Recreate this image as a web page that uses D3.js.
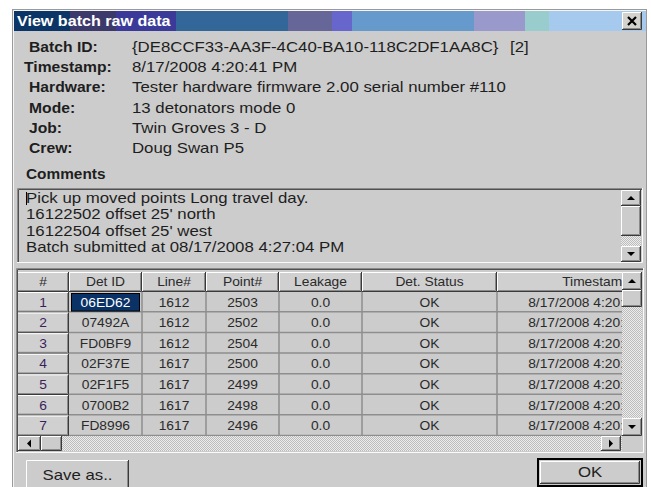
<!DOCTYPE html>
<html>
<head>
<meta charset="utf-8">
<script src="https://cdn.jsdelivr.net/npm/d3@7"></script>
<style>
body { margin: 0; background: #fff; }
</style>
</head>
<body>
<script>
// ---- data ----
var titleText = "View batch raw data";
var fieldLabels = ["Batch ID:", "Timestamp:", "Hardware:", "Mode:", "Job:", "Crew:"];
var fieldValues = ["{DE8CCF33-AA3F-4C40-BA10-118C2DF1AA8C}", "8/17/2008 4:20:41 PM",
  "Tester hardware firmware 2.00 serial number #110", "13 detonators mode 0",
  "Twin Groves 3 - D", "Doug Swan P5"];
var batchIndex = "[2]";
var commentsTitle = "Comments";
var commentLines = ["Pick up moved points Long travel day.", "16122502 offset 25' north",
  "16122504 offset 25' west", "Batch submitted at 08/17/2008 4:27:04 PM"];

var columns = ["#", "Det ID", "Line#", "Point#", "Leakage", "Det. Status", "Timestamp"];
var rowNums = [1, 2, 3, 4, 5, 6, 7];
var detIds = ["06ED62", "07492A", "FD0BF9", "02F37E", "02F1F5", "0700B2", "FD8996"];
var lineNums = [1612, 1612, 1612, 1617, 1617, 1617, 1617];
var pointNums = [2503, 2502, 2504, 2500, 2499, 2498, 2496];
var leakage = ["0.0", "0.0", "0.0", "0.0", "0.0", "0.0", "0.0"];
var detStatus = ["OK", "OK", "OK", "OK", "OK", "OK", "OK"];
var detTimes = ["8/17/2008 4:20:41 PM", "8/17/2008 4:20:41 PM", "8/17/2008 4:20:41 PM",
  "8/17/2008 4:20:41 PM", "8/17/2008 4:20:41 PM", "8/17/2008 4:20:41 PM", "8/17/2008 4:20:41 PM"];
var saveLabel = "Save as..";
var okLabel = "OK";

// ---- layout ----
var W = 651, H = 487;
var SX = 1.2;   // screenshot text is stretched horizontally
var panel = "#cccccc";
var ink = "#1e1e1e";

var svg = d3.select("body").append("svg")
  .attr("width", W).attr("height", H)
  .style("font-family", "'Liberation Sans', Arial, sans-serif");

var defs = svg.append("defs");
var pat = defs.append("pattern").attr("id", "dots")
  .attr("width", 2).attr("height", 2).attr("patternUnits", "userSpaceOnUse");
pat.append("rect").attr("width", 2).attr("height", 2).attr("fill", "#ececec");
pat.append("rect").attr("width", 1).attr("height", 1).attr("fill", "#bcbcbc");
pat.append("rect").attr("x", 1).attr("y", 1).attr("width", 1).attr("height", 1).attr("fill", "#bcbcbc");

function put(g, x, y, s, size, opt) {
  opt = opt || {};
  return g.append("text")
    .attr("transform", "translate(" + x + "," + y + ") scale(" + (opt.sx || SX) + ",1)")
    .attr("dy", "0.36em")
    .attr("font-size", size)
    .attr("font-weight", opt.bold ? "bold" : "normal")
    .attr("text-anchor", opt.anchor || "start")
    .attr("fill", opt.fill || ink)
    .text(s);
}

function raised(g, x, y, w, h, fill) {
  g.append("rect").attr("x", x).attr("y", y).attr("width", w).attr("height", h).attr("fill", fill || panel);
  g.append("path").attr("d", "M" + (x + 0.5) + "," + (y + h - 1) + "V" + (y + 0.5) + "H" + (x + w - 1))
    .attr("stroke", "#fff").attr("fill", "none");
  g.append("path").attr("d", "M" + (x + 1) + "," + (y + h - 1.5) + "H" + (x + w - 1.5) + "V" + (y + 1))
    .attr("stroke", "#8a8a8a").attr("fill", "none");
  g.append("path").attr("d", "M" + x + "," + (y + h - 0.5) + "H" + (x + w - 0.5) + "V" + y)
    .attr("stroke", "#3a3a3a").attr("fill", "none");
}

function sunken(g, x, y, w, h) {
  g.append("path").attr("d", "M" + (x + 0.5) + "," + (y + h) + "V" + (y + 0.5) + "H" + (x + w))
    .attr("stroke", "#8a8a8a").attr("fill", "none");
  g.append("path").attr("d", "M" + (x + 1.5) + "," + (y + h - 1) + "V" + (y + 1.5) + "H" + (x + w - 1))
    .attr("stroke", "#505050").attr("fill", "none");
  g.append("path").attr("d", "M" + x + "," + (y + h - 0.5) + "H" + (x + w - 0.5) + "V" + y)
    .attr("stroke", "#fafafa").attr("fill", "none");
}

function arrow(g, cx, cy, dir) {
  var d = {
    up: [[-4, 2], [4, 2], [0, -2]], down: [[-4, -2], [4, -2], [0, 2]],
    left: [[2, -4], [2, 4], [-2, 0]], right: [[-2, -4], [-2, 4], [2, 0]]
  }[dir];
  g.append("path").attr("fill", "#000")
    .attr("d", "M" + d.map(function (p) { return (cx + p[0]) + "," + (cy + p[1]); }).join("L") + "Z");
}

function vscroll(g, x, y0, y1, thumbEnd, btn) {
  g.append("rect").attr("x", x).attr("y", y0).attr("width", 20).attr("height", y1 - y0).attr("fill", "url(#dots)");
  raised(g, x, y0, 20, btn);
  arrow(g, x + 10, y0 + btn / 2, "up");
  raised(g, x, y0 + btn, 20, thumbEnd - y0 - btn);
  raised(g, x, y1 - btn, 20, btn);
  arrow(g, x + 10, y1 - btn / 2, "down");
}

// ---- dialog frame ----
svg.append("rect").attr("x", 12.5).attr("y", 9.5).attr("width", 634).attr("height", 490)
  .attr("fill", panel).attr("stroke", "#9a9a9a");
svg.append("path").attr("d", "M13.5,499V10.5H646").attr("stroke", "#f4f4f4").attr("fill", "none");

// title bar bands
var bands = [
  [14, 70, "#0b3566"], [70, 116, "#3c3a6b"], [116, 176, "#3b3a99"], [176, 288, "#336699"],
  [288, 332, "#666699"], [332, 352, "#6666cc"], [352, 474, "#6699cc"], [474, 525, "#9999cc"],
  [525, 549, "#99cccc"], [549, 646, "#a6c9ee"]
];
var title = svg.append("g");
title.selectAll("rect").data(bands).join("rect")
  .attr("x", function (d) { return d[0]; }).attr("y", 11)
  .attr("width", function (d) { return d[1] - d[0]; }).attr("height", 20)
  .attr("fill", function (d) { return d[2]; });
put(title, 17, 21, titleText, 14, { bold: true, fill: "#fff", sx: 1.15 });
raised(title, 622, 12, 20, 18, "#d4d2cc");
title.append("path").attr("d", "M628,17L636,25M636,17L628,25")
  .attr("stroke", "#000").attr("stroke-width", 2.2);

// ---- header fields ----
var fieldY = d3.scalePoint().domain(fieldLabels).range([47, 148]);
var fields = svg.append("g");
fieldLabels.forEach(function (l, i) {
  put(fields, l === "Timestamp:" ? 24 : 29, fieldY(l), l, 14, { bold: true, sx: 1.12 });
  put(fields, 132, fieldY(l), fieldValues[i], 14);
});
put(fields, 510, fieldY("Batch ID:"), batchIndex, 14);

// ---- comments ----
put(svg, 26, 174, commentsTitle, 14, { bold: true, sx: 1.1 });
var cbox = svg.append("g");
sunken(cbox, 17, 188, 626, 75);
var commentY = d3.scalePoint().domain(d3.range(commentLines.length)).range([198, 247]);
commentLines.forEach(function (s, i) { put(cbox, 26, commentY(i), s, 14); });
cbox.append("line").attr("x1", 26.5).attr("x2", 26.5).attr("y1", 192).attr("y2", 205).attr("stroke", "#000");
vscroll(cbox, 621, 190, 262, 236, 16);

// ---- table ----
var colEdges = [17, 69, 142, 206, 279, 362, 497, 695];
var colX = d3.scaleOrdinal().domain(columns).range(colEdges);
function colW(c) { return colEdges[columns.indexOf(c) + 1] - colX(c); }
var rowY = d3.scaleBand().domain(rowNums).range([292, 292 + 20.6 * rowNums.length]);

var table = svg.append("g");
sunken(table, 16, 268, 628, 185);
defs.append("clipPath").attr("id", "tclip").append("rect")
  .attr("x", 18).attr("y", 270).attr("width", 604).attr("height", 166);
var body = table.append("g").attr("clip-path", "url(#tclip)");

// header cells
columns.forEach(function (c) {
  raised(body, colX(c), 272, colW(c), 20, "#d0d0d0");
  put(body, colX(c) + colW(c) / 2, 282, c, 12, { anchor: "middle", sx: 1.15, fill: "#2a2a2a" });
});

var rows = rowNums.map(function (n, i) {
  return [n, detIds[i], lineNums[i], pointNums[i], leakage[i], detStatus[i], detTimes[i]];
});

body.append("rect").attr("x", colX("Det ID")).attr("y", rowY.range()[0])
  .attr("width", 695 - colX("Det ID")).attr("height", rowY.range()[1] - rowY.range()[0]).attr("fill", panel);

rows.forEach(function (r, i) {
  var y = rowY(rowNums[i]), h = rowY.bandwidth();
  raised(body, colX("#"), y, colW("#"), h, "#d0d0d0");
  body.append("line").attr("x1", colX("Det ID")).attr("x2", 695)
    .attr("y1", y + h - 0.75).attr("y2", y + h - 0.75)
    .attr("stroke", "#8e8e8e").attr("stroke-width", 1.5);
  columns.forEach(function (c, j) {
    var cx = colX(c) + colW(c) / 2, cy = y + h / 2;
    var fill = j === 0 ? "#3b1f5c" : "#2a2a2a";
    if (i === 0 && c === "Det ID") {
      body.append("rect").attr("x", colX(c) + 2.5).attr("y", y + 1.5)
        .attr("width", colW(c) - 5).attr("height", h - 3)
        .attr("fill", "#0a3266").attr("stroke", "#000");
      fill = "#fff";
    }
    put(body, cx, cy, r[j], 12, { anchor: "middle", sx: 1.15, fill: fill });
  });
});
colEdges.slice(2, 7).forEach(function (x) {
  body.append("line").attr("x1", x).attr("x2", x).attr("y1", 292).attr("y2", 436)
    .attr("stroke", "#8e8e8e").attr("stroke-width", 1.5);
});

// table scrollbars
vscroll(table, 622, 272, 436, 307, 18);
table.append("rect").attr("x", 18).attr("y", 436).attr("width", 604).attr("height", 15).attr("fill", "url(#dots)");
raised(table, 18, 436, 23, 15);
arrow(table, 29, 443.5, "left");
raised(table, 41, 436, 21, 15);
raised(table, 601, 436, 20, 15);
arrow(table, 611, 443.5, "right");
table.append("rect").attr("x", 622).attr("y", 436).attr("width", 20).attr("height", 15).attr("fill", panel);

// ---- buttons ----
var btns = svg.append("g");
raised(btns, 26, 460, 103, 36);
put(btns, 77.5, 475, saveLabel, 14, { anchor: "middle" });
btns.append("rect").attr("x", 538).attr("y", 459).attr("width", 104).attr("height", 27)
  .attr("fill", "none").attr("stroke", "#000").attr("stroke-width", 2);
raised(btns, 540, 461, 100, 23);
put(btns, 590, 472, okLabel, 14, { anchor: "middle" });
</script>
</body>
</html>
